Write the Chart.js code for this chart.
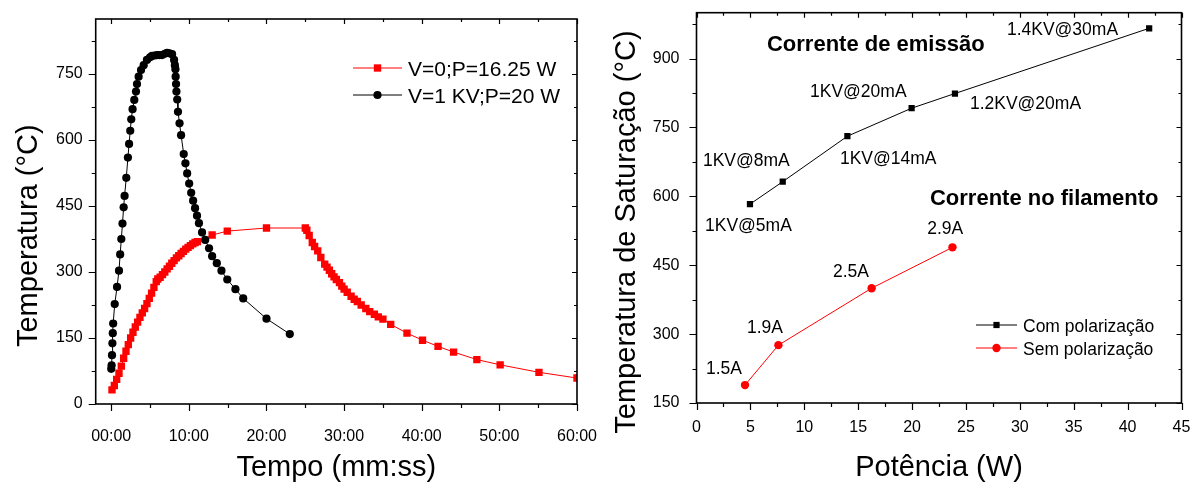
<!DOCTYPE html>
<html>
<head>
<meta charset="utf-8">
<script src="https://cdn.jsdelivr.net/npm/chart.js@4"></script>
<style>
html, body { margin: 0; padding: 0; background: #fff; }
#wrap { display: flex; width: 1194px; height: 482px; overflow: hidden; }
canvas { display: block; }
</style>
</head>
<body>
<div id="wrap">
  <canvas id="left" width="597" height="482"></canvas>
  <canvas id="right" width="597" height="482"></canvas>
</div>
<script>
// --- left chart: temperatura x tempo (minutos) ---
const redTime = [0.1, 0.4, 0.7, 1.0, 1.3, 1.6, 1.9, 2.2, 2.5, 2.8, 3.1, 3.4, 3.7, 4.0, 4.3, 4.6, 4.9, 5.2, 5.5, 5.8,
  6.0, 6.3, 6.6, 6.9, 7.2, 7.5, 7.8, 8.1, 8.4, 8.7, 9.0, 9.3, 9.6, 9.9, 10.2, 10.5, 10.8, 11.1, 13.0, 14.95,
  20.0, 25.0, 25.2, 25.5, 25.9, 26.2, 26.6, 27.0, 27.5, 27.8, 28.1, 28.4, 28.7, 29.0, 29.4, 29.7, 30.0, 30.4,
  30.9, 31.3, 31.7, 32.2, 32.8, 33.3, 33.9, 34.4, 35.0, 36.0, 38.1, 40.1, 42.1, 44.1, 47.1, 50.1, 55.1, 60.0];
const redTemp = [32, 42, 56, 70, 86, 104, 120, 135, 150, 163, 175, 186, 197, 207, 217, 228, 240, 252, 265, 278,
  284, 288, 294, 300, 307, 313, 320, 326, 332, 337, 342, 347, 352, 356, 360, 364, 367, 369, 384, 393,
  400, 400, 395, 383, 367, 358, 348, 333, 318, 311, 304, 296, 289, 283, 276, 268, 261, 254,
  245, 238, 233, 225, 217, 210, 204, 198, 193, 181, 161, 145, 131, 118, 101, 89, 72, 59];

const blackTime = [0.0, 0.05, 0.1, 0.15, 0.2, 0.25, 0.45, 0.75, 1.0, 1.15, 1.3, 1.45, 1.6, 1.72, 1.94, 2.15, 2.3,
  2.45, 2.58, 2.75, 2.97, 3.19, 3.32, 3.53, 3.84, 4.18, 4.6, 5.0, 5.25, 5.6, 5.9, 6.2, 6.55, 6.9, 7.2, 7.5,
  7.84, 8.1, 8.2, 8.27, 8.3, 8.35, 8.4, 8.5, 8.6, 8.8, 9.0, 9.34, 9.56, 9.78, 10.04, 10.3, 10.55, 10.8,
  11.05, 11.3, 11.7, 12.1, 12.6, 13.0, 13.6, 14.2, 14.95, 16.0, 17.0, 20.0, 23.0];
const blackTemp = [80, 88, 111, 138, 161, 183, 227, 266, 303, 340, 375, 410, 447, 473, 514, 560, 591,
  621, 647, 670, 691, 710, 727, 744, 759, 770, 782, 788, 791, 792, 793, 793, 793, 796, 798, 797,
  795, 782, 770, 761, 744, 727, 710, 692, 664, 638, 611, 568, 547, 524, 501, 480, 462, 445,
  428, 411, 390, 373, 354, 336, 320, 303, 283, 261, 240, 194, 159];

const timeTicks = [0, 10, 20, 30, 40, 50, 60];
const tempTicks = [0, 150, 300, 450, 600, 750];

// --- right chart: temperatura de saturacao x potencia ---
const powerWith = [4.96, 8.0, 14.0, 19.96, 23.98, 42.0];
const satWith = [583, 632, 731, 792, 824, 966];
const powerWithout = [4.5, 7.6, 16.25, 23.75];
const satWithout = [189, 276, 400, 489];

const powerTicks = [0, 5, 10, 15, 20, 25, 30, 35, 40, 45];
const satTicks = [150, 300, 450, 600, 750, 900];

const notes = [
  { text: '1.4KV@30mA', x: 28.8, y: 962 },
  { text: 'Corrente de emissão', x: 6.54, y: 930, bold: true },
  { text: '1KV@20mA', x: 10.53, y: 827 },
  { text: '1.2KV@20mA', x: 25.37, y: 801 },
  { text: '1KV@8mA', x: 0.6, y: 677 },
  { text: '1KV@14mA', x: 13.31, y: 681 },
  { text: '1KV@5mA', x: 0.79, y: 535 },
  { text: 'Corrente no filamento', x: 21.66, y: 594, bold: true },
  { text: '2.9A', x: 21.4, y: 529 },
  { text: '2.5A', x: 12.66, y: 435 },
  { text: '1.9A', x: 4.68, y: 313 },
  { text: '1.5A', x: 0.88, y: 224 }
];

const FONT = '"Liberation Sans", Arial, sans-serif';
Chart.defaults.font.family = FONT;
Chart.defaults.color = '#000';

function pts(xs, ys) {
  return xs.map((v, i) => ({ x: v, y: ys[i] }));
}

function marker(ctx, style, x, y, r, color) {
  ctx.fillStyle = color;
  ctx.beginPath();
  if (style === 'rect') {
    const s = Math.SQRT1_2 * r;
    ctx.rect(x - s, y - s, 2 * s, 2 * s);
  } else {
    ctx.arc(x, y, r, 0, Math.PI * 2);
  }
  ctx.fill();
}

// frame + major/minor ticks on all four sides
const framePlugin = {
  id: 'frame',
  afterDatasetsDraw(chart, args, o) {
    const { ctx, chartArea: a, scales: { x, y } } = chart;
    ctx.save();
    ctx.strokeStyle = '#000';
    ctx.lineWidth = 1.2;
    ctx.beginPath();
    for (let v = o.x0; v <= o.x1 + 1e-9; v += o.xMinor) {
      const px = Math.round(x.getPixelForValue(v)) + 0.5;
      const major = Math.abs(v / o.xMajor - Math.round(v / o.xMajor)) < 1e-6;
      ctx.moveTo(px, a.bottom); ctx.lineTo(px, a.bottom + (major ? 7 : 4));
      ctx.moveTo(px, a.top); ctx.lineTo(px, a.top + (major ? 5 : 3));
    }
    for (let v = o.y0; v <= o.y1 + 1e-9; v += o.yMinor) {
      const py = Math.round(y.getPixelForValue(v)) + 0.5;
      const major = Math.abs((v - o.y0) / o.yMajor - Math.round((v - o.y0) / o.yMajor)) < 1e-6;
      ctx.moveTo(a.left, py); ctx.lineTo(a.left - (major ? 7 : 4), py);
      ctx.moveTo(a.right, py); ctx.lineTo(a.right - (major ? 5 : 3), py);
    }
    ctx.stroke();
    ctx.lineWidth = 1.6;
    ctx.strokeRect(a.left, a.top, a.right - a.left, a.bottom - a.top);
    ctx.restore();
  }
};

// legend drawn inside the plot
const boxLegend = {
  id: 'boxLegend',
  afterDraw(chart, args, o) {
    const { ctx } = chart;
    ctx.save();
    ctx.font = o.size + 'px ' + FONT;
    ctx.textBaseline = 'middle';
    o.items.forEach((it, i) => {
      const ds = chart.data.datasets[it.ds];
      const yy = o.y + i * o.gap;
      ctx.strokeStyle = ds.borderColor;
      ctx.lineWidth = 1;
      ctx.beginPath();
      ctx.moveTo(o.x, yy); ctx.lineTo(o.x + o.len, yy);
      ctx.stroke();
      marker(ctx, ds.pointStyle, o.x + o.len / 2, yy, ds.pointRadius, ds.backgroundColor);
      ctx.fillStyle = '#000';
      ctx.fillText(ds.label, o.x + o.len + 6, yy + 2);
    });
    ctx.restore();
  }
};

// point labels for the right chart
const notesPlugin = {
  id: 'notes',
  afterDraw(chart, args, o) {
    if (!o.items) return;
    const { ctx, scales: { x, y } } = chart;
    ctx.save();
    ctx.fillStyle = '#000';
    ctx.textBaseline = 'middle';
    ctx.textAlign = 'left';
    o.items.forEach(n => {
      ctx.font = (n.bold ? 'bold 22px ' : '17.5px ') + FONT;
      ctx.fillText(n.text, x.getPixelForValue(n.x), y.getPixelForValue(n.y));
    });
    ctx.restore();
  }
};

function fixed(list) {
  return scale => { scale.ticks = list.map(v => ({ value: v })); };
}

// box size set by hand, no automatic label overhang padding
function fitBox(w, h) {
  return s => {
    if (w) s.width = w;
    if (h) s.height = h;
    s.paddingLeft = 0; s.paddingRight = 0; s.paddingTop = 0; s.paddingBottom = 0;
  };
}

new Chart(document.getElementById('left'), {
  type: 'scatter',
  data: {
    datasets: [
      {
        label: 'V=0;P=16.25 W',
        data: pts(redTime, redTemp),
        showLine: true,
        borderColor: '#ff0000',
        backgroundColor: '#ff0000',
        borderWidth: 1,
        pointStyle: 'rect',
        pointRadius: 5.2,
        pointBorderWidth: 0,
        order: 1
      },
      {
        label: 'V=1 KV;P=20 W',
        data: pts(blackTime, blackTemp),
        showLine: true,
        borderColor: '#000',
        backgroundColor: '#000',
        borderWidth: 1,
        pointStyle: 'circle',
        pointRadius: 4.1,
        pointBorderWidth: 0,
        order: 0
      }
    ]
  },
  options: {
    responsive: false,
    animation: false,
    devicePixelRatio: 1,
    layout: { padding: { left: 0, top: 19, right: 20, bottom: 0 } },
    plugins: {
      legend: { display: false },
      tooltip: { enabled: false },
      frame: { x0: 0, x1: 60, xMajor: 10, xMinor: 5, y0: 0, y1: 825, yMajor: 150, yMinor: 75 },
      boxLegend: { x: 353, y: 68, gap: 27, len: 49, size: 21, items: [{ ds: 0 }, { ds: 1 }] }
    },
    scales: {
      x: {
        type: 'linear', min: -2, max: 60,
        afterBuildTicks: fixed(timeTicks),
        afterFit: fitBox(0, 78),
        grid: { display: false, drawTicks: false },
        border: { display: false },
        ticks: { font: { size: 16 }, padding: 23, autoSkip: false, maxRotation: 0,
          callback: v => String(v).padStart(2, '0') + ':00' },
        title: { display: true, text: 'Tempo (mm:ss)', font: { size: 29, lineHeight: 1 }, padding: 0 }
      },
      y: {
        type: 'linear', min: 0, max: 875,
        afterBuildTicks: fixed(tempTicks),
        afterFit: fitBox(95.7, 0),
        grid: { display: false, drawTicks: false },
        border: { display: false },
        ticks: { font: { size: 16 }, padding: 13 },
        title: { display: true, text: 'Temperatura (°C)      ', font: { size: 29 }, padding: { top: 11.6, bottom: 0 } }
      }
    }
  },
  plugins: [framePlugin, boxLegend]
});

new Chart(document.getElementById('right'), {
  type: 'scatter',
  data: {
    datasets: [
      {
        label: 'Com polarização',
        data: pts(powerWith, satWith),
        showLine: true,
        borderColor: '#000',
        backgroundColor: '#000',
        borderWidth: 1,
        pointStyle: 'rect',
        pointRadius: 4.4,
        pointBorderWidth: 0
      },
      {
        label: 'Sem polarização',
        data: pts(powerWithout, satWithout),
        showLine: true,
        borderColor: '#ff0000',
        backgroundColor: '#ff0000',
        borderWidth: 1,
        pointStyle: 'circle',
        pointRadius: 4.2,
        pointBorderWidth: 0
      }
    ]
  },
  options: {
    responsive: false,
    animation: false,
    devicePixelRatio: 1,
    layout: { padding: { left: 0, top: 12.7, right: 12.5, bottom: 0 } },
    plugins: {
      legend: { display: false },
      tooltip: { enabled: false },
      frame: { x0: 0, x1: 45, xMajor: 5, xMinor: 2.5, y0: 150, y1: 975, yMajor: 150, yMinor: 75 },
      boxLegend: { x: 379, y: 325, gap: 23, len: 41, size: 17.5, items: [{ ds: 0 }, { ds: 1 }] },
      notes: { items: notes }
    },
    scales: {
      x: {
        type: 'linear', min: 0, max: 45,
        afterBuildTicks: fixed(powerTicks),
        afterFit: fitBox(0, 79),
        grid: { display: false, drawTicks: false },
        border: { display: false },
        ticks: { font: { size: 16 }, padding: 15, autoSkip: false, maxRotation: 0 },
        title: { display: true, text: 'Potência (W)', font: { size: 29, lineHeight: 1 }, padding: 0 }
      },
      y: {
        type: 'linear', min: 150, max: 1000,
        afterBuildTicks: fixed(satTicks),
        afterFit: fitBox(99.5, 0),
        grid: { display: false, drawTicks: false },
        border: { display: false },
        ticks: { font: { size: 16 }, padding: 17 },
        title: { display: true, text: 'Temperatura de Saturação (°C)      ', font: { size: 29 }, padding: { top: 12.6, bottom: 0 } }
      }
    }
  },
  plugins: [framePlugin, boxLegend, notesPlugin]
});
</script>
</body>
</html>
